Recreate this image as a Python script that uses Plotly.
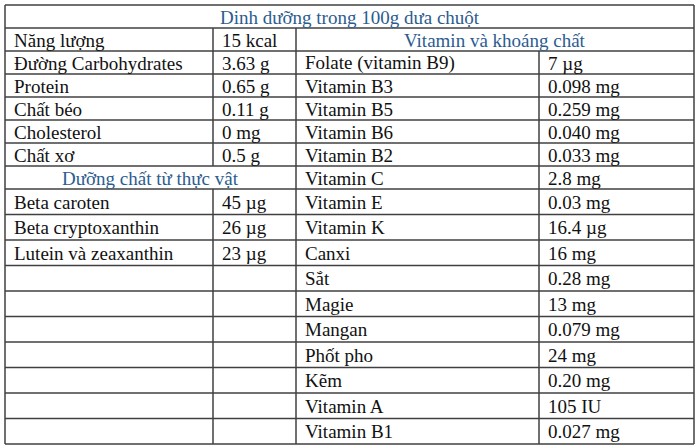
import plotly.graph_objects as go

# ---------------- data ----------------
title_text = "Dinh dưỡng trong 100g dưa chuột"
left_header = "Dưỡng chất từ thực vật"
right_header = "Vitamin và khoáng chất"

basic_labels = ["Năng lượng", "Đường Carbohydrates", "Protein", "Chất béo",
                "Cholesterol", "Chất xơ"]
basic_values = ["15 kcal", "3.63 g", "0.65 g", "0.11 g", "0 mg", "0.5 g"]

plant_labels = ["Beta caroten", "Beta cryptoxanthin", "Lutein và zeaxanthin"]
plant_values = ["45 µg", "26 µg", "23 µg"]

vit_labels = ["Folate (vitamin B9)", "Vitamin B3", "Vitamin B5", "Vitamin B6",
              "Vitamin B2", "Vitamin C", "Vitamin E", "Vitamin K", "Canxi",
              "Sắt", "Magie", "Mangan", "Phốt pho", "Kẽm", "Vitamin A",
              "Vitamin B1"]
vit_values = ["7 µg", "0.098 mg", "0.259 mg", "0.040 mg", "0.033 mg", "2.8 mg",
              "0.03 mg", "16.4 µg", "16 mg", "0.28 mg", "13 mg", "0.079 mg",
              "24 mg", "0.20 mg", "105 IU", "0.027 mg"]

# ---------------- layout constants ----------------
W, H = 700, 448
TOP = 5
ROW_H = [23] * 8 + [25.5] * 10          # title row + 17 body rows
COLS = [5, 213, 296, 539, 694]          # column boundaries
PAD = 7
FONT = "Liberation Serif, Times New Roman, serif"
FS = 19
TXT = "#111111"
BLUE = "#2B5C8F"
LINE = "#404040"
LW = 1.5

bounds = [TOP]
for h in ROW_H:
    bounds.append(bounds[-1] + h)
NROWS = len(ROW_H)


def center(r):
    return (bounds[r] + bounds[r + 1]) / 2


annotations = []


def add_text(x, r, text, anchor="left", color=TXT):
    annotations.append(dict(
        x=x, y=center(r) + 0.5, xref="x", yref="y", text=text, showarrow=False,
        xanchor=anchor, yanchor="middle",
        font=dict(family=FONT, size=FS, color=color)))


# title
add_text((COLS[0] + COLS[4]) / 2, 0, title_text, "center", BLUE)
# right header
add_text((COLS[2] + COLS[4]) / 2, 1, right_header, "center", BLUE)
# basic nutrients rows 1..6
for i, (lab, val) in enumerate(zip(basic_labels, basic_values)):
    add_text(COLS[0] + PAD, 1 + i, lab)
    add_text(COLS[1] + PAD, 1 + i, val)
left_header_row = 1 + len(basic_labels)
add_text((COLS[0] + COLS[2]) / 2, left_header_row, left_header, "center", BLUE)
for i, (lab, val) in enumerate(zip(plant_labels, plant_values)):
    add_text(COLS[0] + PAD, left_header_row + 1 + i, lab)
    add_text(COLS[1] + PAD, left_header_row + 1 + i, val)
for i, (lab, val) in enumerate(zip(vit_labels, vit_values)):
    add_text(COLS[2] + PAD, 2 + i, lab)
    add_text(COLS[3] + PAD, 2 + i, val)

shapes = []


def line(x0, y0, x1, y1):
    shapes.append(dict(type="line", xref="x", yref="y", x0=x0, y0=y0,
                       x1=x1, y1=y1, line=dict(color=LINE, width=LW)))


# horizontal lines
for b in bounds:
    line(COLS[0], b, COLS[4], b)
# outer verticals
line(COLS[0], bounds[0], COLS[0], bounds[-1])
line(COLS[4], bounds[0], COLS[4], bounds[-1])
# column 1|2 divider, skipping merged left header row
for r in range(1, NROWS):
    if r != left_header_row:
        line(COLS[1], bounds[r], COLS[1], bounds[r + 1])
# column 2|3 divider
line(COLS[2], bounds[1], COLS[2], bounds[-1])
# column 3|4 divider (below right header)
line(COLS[3], bounds[2], COLS[3], bounds[-1])

fig = go.Figure()
fig.add_trace(go.Scatter(x=[0, W], y=[0, H], mode="markers",
                         marker=dict(opacity=0), hoverinfo="skip",
                         showlegend=False))
fig.update_layout(
    width=W, height=H, margin=dict(l=0, r=0, t=0, b=0),
    paper_bgcolor="white", plot_bgcolor="white",
    xaxis=dict(range=[0, W], visible=False, fixedrange=True),
    yaxis=dict(range=[H, 0], visible=False, fixedrange=True),
    shapes=shapes, annotations=annotations, showlegend=False,
)
fig.write_html("out.html", config={"displayModeBar": False},
               post_script="document.body.style.margin='0';"
                           "document.body.style.overflow='hidden';")
